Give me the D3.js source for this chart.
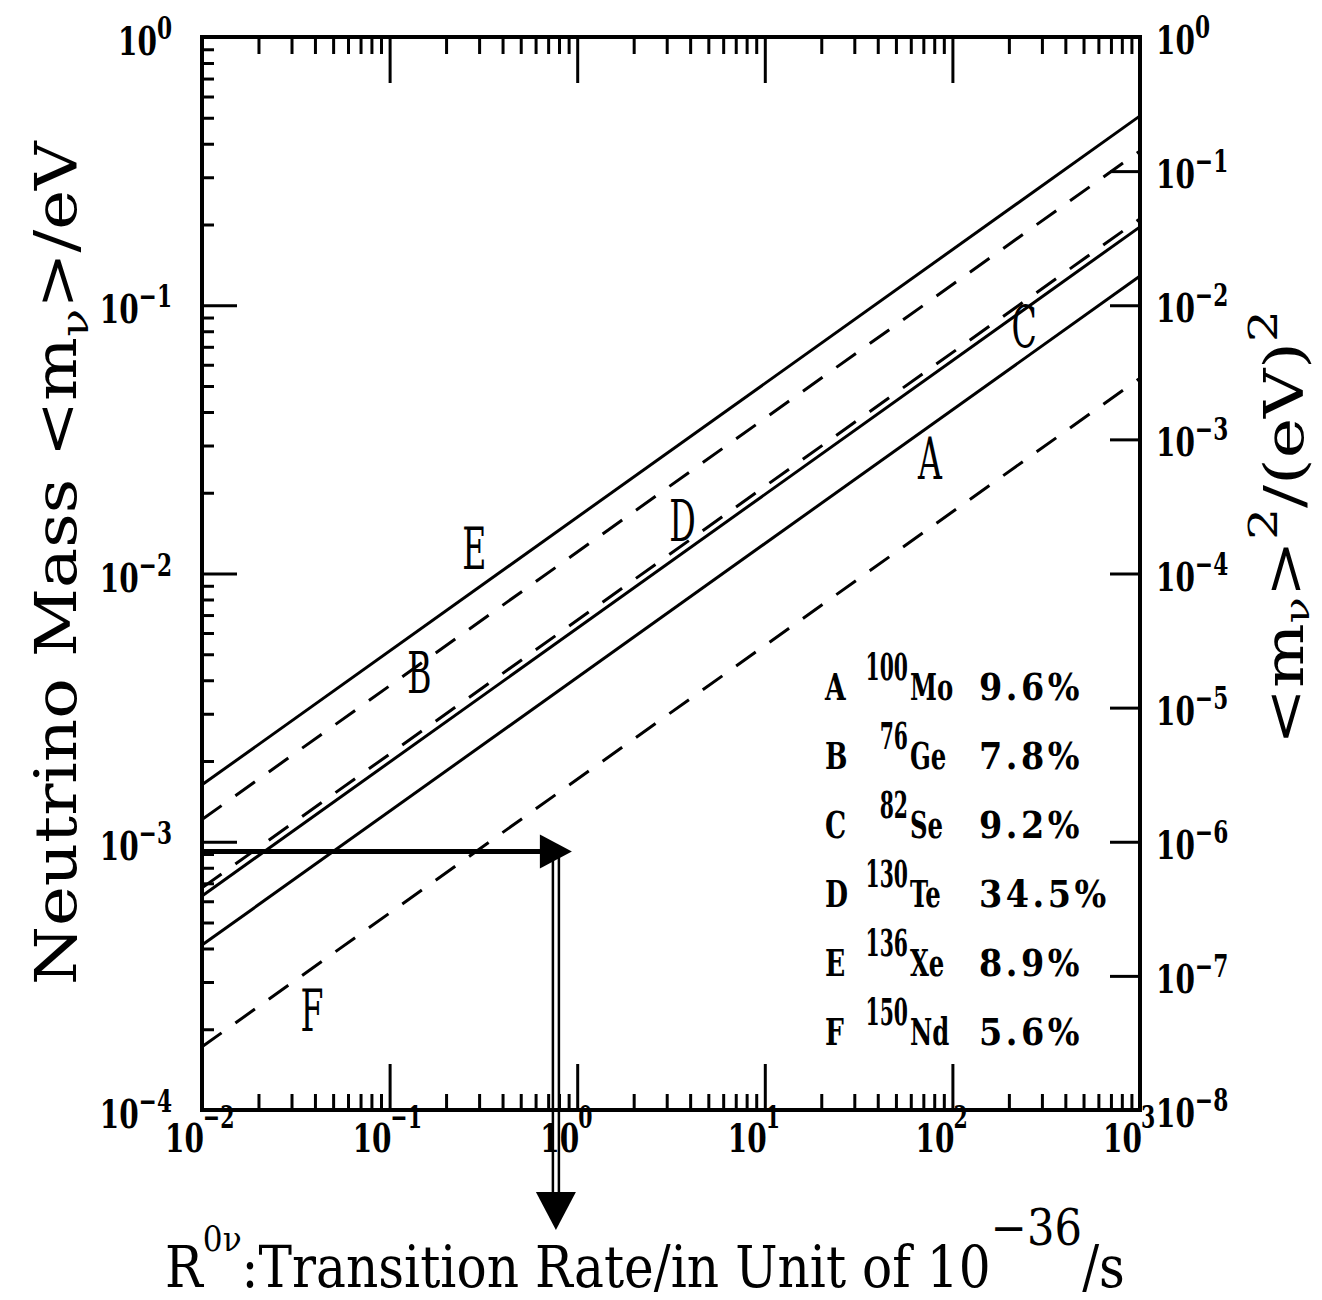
<!DOCTYPE html>
<html>
<head>
<meta charset="utf-8">
<script src="https://d3js.org/d3.v7.min.js"></script>
<style>
  body { margin: 0; background: #fff; }
  text { font-family: "DejaVu Serif", serif; fill: #000; font-weight: bold; }
</style>
</head>
<body>
<div id="chart"></div>
<script>
// one line per isotope
var curveNames    = ["A", "B", "C", "D", "E", "F"];
var massNumbers   = ["100", "76", "82", "130", "136", "150"];
var elements      = ["Mo", "Ge", "Se", "Te", "Xe", "Nd"];
var abundances    = ["9.6%", "7.8%", "9.2%", "34.5%", "8.9%", "5.6%"];

var rateEnds      = [1e-2, 1e3];
var massAtLowEnd  = [4.12e-4, 1.21e-3, 6.73e-4, 6.28e-4, 1.63e-3, 1.72e-4];
var massAtHighEnd = [0.1285, 0.376, 0.210, 0.196, 0.508, 0.0535];

// where the letter of each line sits (rate, mass)
var labelRates    = [76, 0.144, 241, 3.64, 0.283, 0.0386];
var labelMasses   = [0.027, 4.3e-3, 0.0837, 0.0158, 0.01245, 2.36e-4];

// example read-off: a mass bound and the rate it gives
var exampleMass = 9.2e-4;
var exampleRate = 0.77;

var xTicks  = [1e-2, 1e-1, 1e0, 1e1, 1e2, 1e3];
var yTicks  = [1e-4, 1e-3, 1e-2, 1e-1, 1e0];
var y2Ticks = [1e-8, 1e-7, 1e-6, 1e-5, 1e-4, 1e-3, 1e-2, 1e-1, 1e0];

var dashed = {B: true, C: true, F: true};

var W = 1322, H = 1300;
var plotL = 202, plotR = 1140, plotT = 37, plotB = 1110;

var svg = d3.select("#chart").append("svg")
    .attr("width", W).attr("height", H);

var x  = d3.scaleLog().domain([1e-2, 1e3]).range([plotL, plotR]);
var y  = d3.scaleLog().domain([1e-4, 1]).range([plotB, plotT]);
var y2 = d3.scaleLog().domain([1e-8, 1]).range([plotB, plotT]);

function minors(majors) {
  var out = [];
  majors.slice(0, -1).forEach(function(d) {
    for (var k = 2; k <= 9; k++) out.push(d * k);
  });
  return out;
}

function styleAxis(g) {
  g.select(".domain").remove();
  g.selectAll("text").remove();
  g.selectAll("line").attr("stroke", "#000").attr("stroke-width", 3);
}

// ticks, all pointing into the plot
svg.append("g").attr("transform", "translate(0," + plotB + ")")
  .call(d3.axisBottom(x).tickValues(xTicks).tickSize(-46).tickFormat("")).call(styleAxis);
svg.append("g").attr("transform", "translate(0," + plotB + ")")
  .call(d3.axisBottom(x).tickValues(minors(xTicks)).tickSize(-16).tickFormat("")).call(styleAxis);
svg.append("g").attr("transform", "translate(0," + plotT + ")")
  .call(d3.axisTop(x).tickValues(xTicks).tickSize(-46).tickFormat("")).call(styleAxis);
svg.append("g").attr("transform", "translate(0," + plotT + ")")
  .call(d3.axisTop(x).tickValues(minors(xTicks)).tickSize(-17).tickFormat("")).call(styleAxis);
svg.append("g").attr("transform", "translate(" + plotL + ",0)")
  .call(d3.axisLeft(y).tickValues(yTicks).tickSize(-35).tickFormat("")).call(styleAxis);
svg.append("g").attr("transform", "translate(" + plotL + ",0)")
  .call(d3.axisLeft(y).tickValues(minors(yTicks)).tickSize(-12).tickFormat("")).call(styleAxis);
svg.append("g").attr("transform", "translate(" + plotR + ",0)")
  .call(d3.axisRight(y2).tickValues(y2Ticks).tickSize(-30).tickFormat("")).call(styleAxis);

// frame
svg.append("rect")
  .attr("x", plotL).attr("y", plotT)
  .attr("width", plotR - plotL).attr("height", plotB - plotT)
  .attr("fill", "none").attr("stroke", "#000").attr("stroke-width", 4);

function expText(v) {
  var e = Math.round(Math.log10(v));
  return e < 0 ? "\u2212" + (-e) : "" + e;
}

function squeezed(X, Y, sx) {
  return "translate(" + X + "," + Y + ") scale(" + sx + ",1)";
}

// x tick labels: "10" ends on the tick, exponent starts there
xTicks.forEach(function(v) {
  svg.append("text").attr("transform", squeezed(x(v) + 2, plotB + 42, 0.7))
    .attr("text-anchor", "end").style("font-size", "40px")
    .text("10");
  svg.append("text").attr("transform", squeezed(x(v) + 1, plotB + 18, 0.66))
    .style("font-size", "31px")
    .text(expText(v));
});

// left labels
yTicks.forEach(function(v) {
  var t = svg.append("text").attr("transform", squeezed(172, y(v) + 18, 0.7))
    .attr("text-anchor", "end").style("font-size", "40px");
  t.append("tspan").text("10");
  t.append("tspan").attr("dy", -16).style("font-size", "31px").text(expText(v));
});

// right labels
y2Ticks.forEach(function(v) {
  var t = svg.append("text").attr("transform", squeezed(plotR + 16, y2(v) + 17, 0.7))
    .style("font-size", "40px");
  t.append("tspan").text("10");
  t.append("tspan").attr("dy", -16).style("font-size", "31px").text(expText(v));
});

// lines
var line = d3.line().x(function(d) { return x(d[0]); }).y(function(d) { return y(d[1]); });
curveNames.forEach(function(name, i) {
  svg.append("path")
    .datum([[rateEnds[0], massAtLowEnd[i]], [rateEnds[1], massAtHighEnd[i]]])
    .attr("d", line)
    .attr("fill", "none").attr("stroke", "#000").attr("stroke-width", 3)
    .attr("stroke-dasharray", dashed[name] ? "24,17" : null);

  svg.append("text")
    .attr("transform", squeezed(x(labelRates[i]), y(labelMasses[i]) + 21, 0.58))
    .attr("text-anchor", "middle").style("font-size", "57px").style("font-weight", "normal")
    .text(name);
});

// legend
curveNames.forEach(function(name, i) {
  var base = 700 + i * 69;
  svg.append("text").attr("transform", squeezed(825, base, 0.7))
    .style("font-size", "38px").text(name);
  svg.append("text").attr("transform", squeezed(908, base - 20, 0.55))
    .attr("text-anchor", "end").style("font-size", "37px").text(massNumbers[i]);
  svg.append("text").attr("transform", squeezed(910, base, 0.64))
    .style("font-size", "38px").text(elements[i]);
  svg.append("text").attr("transform", squeezed(979, base, 0.88))
    .style("font-size", "38px").style("letter-spacing", "4px").text(abundances[i]);
});

// example read-off arrows
var ax = x(exampleRate), ay = y(exampleMass);
svg.append("line")
  .attr("x1", plotL + 2).attr("x2", ax - 14).attr("y1", ay).attr("y2", ay)
  .attr("stroke", "#000").attr("stroke-width", 5);
svg.append("path")
  .attr("d", "M" + (ax - 16) + "," + (ay - 17) + "L" + (ax + 16) + "," + ay + "L" + (ax - 16) + "," + (ay + 17) + "Z")
  .attr("fill", "#000");
[-3, 3].forEach(function(o) {
  svg.append("line")
    .attr("x1", ax + o).attr("x2", ax + o).attr("y1", ay).attr("y2", plotB + 84)
    .attr("stroke", "#000").attr("stroke-width", 2.5);
});
svg.append("path")
  .attr("d", "M" + (ax - 20) + "," + (plotB + 82) + "L" + ax + "," + (plotB + 120) + "L" + (ax + 20) + "," + (plotB + 82) + "Z")
  .attr("fill", "#000");

// titles, stretched to the length they take in the figure
function fit(t, X, Y, rot, len) {
  var w = t.node().getBBox().width;
  t.attr("transform", "translate(" + X + "," + Y + ") rotate(" + rot + ") scale(" + (len / w) + ",1)");
}

var xt = svg.append("text").style("font-size", "58px").style("font-weight", "normal");
xt.append("tspan").text("R");
xt.append("tspan").attr("dy", -36).style("font-size", "36px").text("0\u03bd");
xt.append("tspan").attr("dy", 36).text(":Transition Rate/in Unit of 10");
xt.append("tspan").attr("dy", -42).style("font-size", "50px").text("\u221236");
xt.append("tspan").attr("dy", 42).text("/s");
fit(xt, 165, 1287, 0, 960);

var yt = svg.append("text").style("font-size", "58px").style("font-weight", "normal");
yt.append("tspan").text("Neutrino Mass <m");
yt.append("tspan").attr("dy", 12).style("font-size", "40px").text("\u03bd");
yt.append("tspan").attr("dy", -12).text(">/eV");
fit(yt, 76, 985, -90, 845);

var y2t = svg.append("text").style("font-size", "54px").style("font-weight", "normal");
y2t.append("tspan").text("<m");
y2t.append("tspan").attr("dy", 6).style("font-size", "34px").text("\u03bd");
y2t.append("tspan").attr("dy", -6).text(">");
y2t.append("tspan").attr("dy", -26).style("font-size", "40px").text("2");
y2t.append("tspan").attr("dy", 26).text("/(eV)");
y2t.append("tspan").attr("dy", -26).style("font-size", "40px").text("2");
fit(y2t, 1303, 745, -90, 435);
</script>
</body>
</html>
